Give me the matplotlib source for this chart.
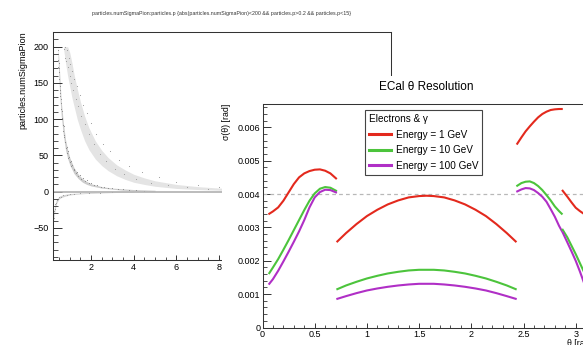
import numpy as np
import matplotlib
matplotlib.use("Agg")
import matplotlib.pyplot as plt
from matplotlib.patches import Rectangle
from matplotlib.ticker import MultipleLocator, FuncFormatter

plt.rcParams['font.family'] = ['Liberation Sans', 'DejaVu Sans']

# ---------------- left plot data (numSigmaPion vs p) ----------------
left_title = ("particles.numSigmaPion:particles.p {abs(particles.numSigmaPion)<200 "
              "&& particles.p>0.2 && particles.p<15}")
left_ylabel = "particles.numSigmaPion"
left_xticks = [2, 4, 6, 8]

# inner (kaon-like) band edges
p_kb = [0.45, 0.5, 0.55, 0.6, 0.7, 0.8, 0.9, 1.0, 1.2, 1.4, 1.6, 1.8, 2.0, 2.5, 3.0, 3.5, 4.0, 5.0]
kb_lo = [185, 150, 125, 105, 78, 58, 46, 37, 25, 18, 13, 10, 8, 5, 3.5, 2, 1.5, 0.5]
kb_hi = [200, 178, 150, 125, 95, 72, 58, 47, 33, 24, 18, 14, 11, 7, 5, 4, 3, 2]
# outer (proton-like) band edges
p_pb = [0.72, 0.8, 0.9, 1.0, 1.1, 1.2, 1.35, 1.5, 1.7, 1.9, 2.2, 2.5, 2.8, 3.2, 3.6, 4.0,
        4.5, 5.0, 6.0, 7.0, 8.0, 10, 12, 14.5]
pb_lo = [195, 178, 160, 145, 130, 118, 100, 86, 70, 58, 45, 36, 29, 22, 17, 13, 10, 7.5,
         4.5, 3, 2, 1, 0.5, 0.3]
pb_hi = [200, 200, 200, 192, 178, 162, 142, 124, 104, 88, 70, 57, 47, 37, 30, 24, 19, 15,
         10, 7, 5, 3, 2, 1.5]
# negative band edges
p_nb = [0.25, 0.28, 0.32, 0.36, 0.4, 0.5, 0.6, 0.8, 1.0, 1.3, 1.7, 2.2, 3.0, 4.0]
nb_lo = [-40, -32, -24, -19, -15, -10, -8, -6, -4.5, -3.5, -2.6, -2, -1.2, -0.6]
nb_hi = [-28, -22, -16, -12, -10, -6.5, -5, -3.5, -2.5, -2, -1.4, -1, -0.5, -0.2]
# pion band at zero
p_pi = [0.2, 16.0]
v_pi = [0.0, 0.0]
# sample points
p_k = [0.45, 0.46, 0.47, 0.47, 0.48, 0.49, 0.50, 0.50, 0.52, 0.53, 0.54, 0.55, 0.56, 0.58, 0.59,
       0.60, 0.62, 0.63, 0.65, 0.66, 0.68, 0.70, 0.71, 0.73, 0.75, 0.77, 0.80, 0.82, 0.85, 0.88,
       0.90, 0.94, 0.97, 1.00, 1.05, 1.08, 1.12, 1.18, 1.22, 1.28, 1.34, 1.40, 1.46, 1.54, 1.62,
       1.70, 1.80, 1.90, 2.00, 2.15, 2.30, 2.45, 2.60, 2.80, 3.00, 3.25, 3.50, 3.80, 4.10, 4.50]
v_k = [196, 182, 190, 172, 178, 165, 170, 155, 150, 140, 146, 132, 136, 122, 128,
       114, 112, 102, 100, 92, 92, 84, 90, 76, 78, 68, 68, 60, 62, 53,
       56, 47, 48, 41, 42, 35, 37, 30, 32, 26, 27, 22, 23, 18, 19,
       15, 15.5, 12, 12.5, 9.5, 9, 7, 7, 5, 5, 3.5, 3.5, 2.5, 2.2, 1.5]
p_pp = [0.74, 0.78, 0.80, 0.83, 0.86, 0.90, 0.95, 0.99, 1.03, 1.07, 1.12, 1.17, 1.22, 1.28, 1.34,
        1.40, 1.47, 1.54, 1.62, 1.70, 1.80, 1.90, 2.00, 2.12, 2.25, 2.40, 2.55, 2.70, 2.90, 3.10,
        3.30, 3.55, 3.80, 4.10, 4.40, 4.80, 5.20, 5.60, 6.00, 6.50, 7.00, 7.50, 8.00, 9.00, 10.0,
        11.0, 12.0, 13.5]
v_pp = [197, 185, 199, 180, 195, 172, 185, 160, 176, 150, 166, 140, 155, 128, 146,
        118, 133, 105, 120, 94, 108, 80, 95, 66, 80, 52, 66, 42, 56, 32,
        44, 25, 35, 18, 27, 12, 20, 9, 13, 6, 9, 4, 6, 3, 2.5,
        1.5, 1.5, 1]
p_np = [0.26, 0.28, 0.30, 0.33, 0.36, 0.40, 0.45, 0.50, 0.60, 0.70, 0.85, 1.0, 1.2, 1.5, 1.9, 2.4, 3.0]
v_np = [-36, -26, -24, -17, -16, -11, -10, -7, -7, -5, -4.5, -3, -3, -2, -1.6, -1.2, -0.7]

# ---------------- right plot data (ECal theta resolution) ----------------
right_title = "ECal θ Resolution"
legend_title = "Electrons & γ"
labels = ["Energy = 1 GeV", "Energy = 10 GeV", "Energy = 100 GeV"]
colors = ["#e3291d", "#4cc43c", "#b02fc6"]

th1 = [0.065, 0.10, 0.15, 0.20, 0.25, 0.30, 0.35, 0.40, 0.45, 0.50, 0.55, 0.60, 0.65, 0.704]
red1 = [3.41, 3.48, 3.60, 3.80, 4.05, 4.30, 4.50, 4.62, 4.69, 4.73, 4.74, 4.70, 4.62, 4.47]
grn1 = [1.63, 1.80, 2.05, 2.33, 2.62, 2.92, 3.22, 3.52, 3.80, 4.02, 4.16, 4.21, 4.19, 4.10]
mag1 = [1.31, 1.45, 1.70, 1.98, 2.27, 2.57, 2.88, 3.22, 3.60, 3.90, 4.06, 4.13, 4.12, 4.05]

th2 = [0.717, 0.80, 0.90, 1.00, 1.10, 1.20, 1.30, 1.40, 1.50, 1.571, 1.64, 1.74, 1.84, 1.94,
       2.04, 2.14, 2.24, 2.34, 2.425]
red2 = [2.58, 2.83, 3.10, 3.34, 3.53, 3.69, 3.81, 3.90, 3.94, 3.95, 3.94, 3.90, 3.81, 3.69,
        3.53, 3.34, 3.10, 2.83, 2.58]
grn2 = [1.15, 1.26, 1.37, 1.47, 1.55, 1.62, 1.67, 1.71, 1.73, 1.73, 1.73, 1.71, 1.67, 1.62,
        1.55, 1.47, 1.37, 1.26, 1.15]
mag2 = [0.86, 0.94, 1.03, 1.11, 1.17, 1.22, 1.26, 1.29, 1.31, 1.31, 1.31, 1.29, 1.26, 1.22,
        1.17, 1.11, 1.03, 0.94, 0.86]

th3 = [2.44, 2.48, 2.52, 2.56, 2.60, 2.64, 2.68, 2.72, 2.76, 2.80, 2.84, 2.866]
red3 = [5.51, 5.70, 5.88, 6.03, 6.17, 6.30, 6.40, 6.47, 6.52, 6.54, 6.55, 6.55]
grn3 = [4.25, 4.33, 4.37, 4.38, 4.33, 4.24, 4.12, 3.97, 3.81, 3.63, 3.49, 3.41]
mag3 = [4.08, 4.14, 4.18, 4.17, 4.12, 4.03, 3.92, 3.77, 3.55, 3.32, 3.05, 2.90]

th4 = [2.875, 2.92, 2.96, 3.00, 3.04, 3.077]
red4 = [4.10, 3.92, 3.75, 3.59, 3.49, 3.41]
grn4 = [2.93, 2.70, 2.45, 2.20, 1.93, 1.68]
mag4 = [2.85, 2.55, 2.28, 2.00, 1.68, 1.36]

segments = [
    (th1, red1, grn1, mag1),
    (th2, red2, grn2, mag2),
    (th3, red3, grn3, mag3),
    (th4, red4, grn4, mag4),
]
ref_level = 0.004

# ---------------- figure ----------------
W, H = 583, 345
fig = plt.figure(figsize=(W / 100, H / 100), dpi=100)
fig.patch.set_facecolor("white")

frame_c = "#333333"

# left plot
ax1 = fig.add_axes([52.7 / W, 1 - 260 / H, (391 - 52.7) / W, (260 - 31.7) / H], zorder=0)
ax1.fill_between(p_pb, pb_lo, pb_hi, color="#e4e4e4", lw=0)
ax1.fill_between(p_kb, kb_lo, kb_hi, color="#cccccc", lw=0)
ax1.fill_between(p_nb, nb_lo, nb_hi, color="#d4d4d4", lw=0)
ax1.plot(p_pi, v_pi, color="#b0b0b0", lw=1.2)
ax1.scatter(p_pp, v_pp, s=0.6, color="#999999", lw=0)
ax1.scatter(p_k, v_k, s=0.6, color="#888888", lw=0)
ax1.scatter(p_np, v_np, s=0.6, color="#999999", lw=0)
ax1.set_xlim(0.2, 16.06)
ax1.set_ylim(-94.2, 220.7)
ax1.set_xticks(left_xticks)
ax1.xaxis.set_minor_locator(MultipleLocator(0.5))
ax1.yaxis.set_major_locator(MultipleLocator(50))
ax1.yaxis.set_minor_locator(MultipleLocator(10))
ax1.tick_params(axis="y", which="major", direction="in", length=6.5, width=0.7,
                labelsize=6.5, pad=3, color=frame_c)
ax1.tick_params(axis="y", which="minor", direction="in", length=3.3, width=0.6, color=frame_c)
ax1.tick_params(axis="x", which="major", direction="in", length=3.6, width=0.7,
                labelsize=6.5, pad=2.5, color=frame_c)
ax1.tick_params(axis="x", which="minor", direction="in", length=1.9, width=0.6, color=frame_c)
for s in ax1.spines.values():
    s.set_color(frame_c)
    s.set_linewidth(0.75)
fig.text(222 / W, 1 - 13.5 / H, left_title, ha="center", va="center", fontsize=3.8, color="#333333")
fig.text(23 / W, 1 - 31.7 / H, left_ylabel, rotation=90, ha="center", va="top", fontsize=6.5)

# white background of the overlaid picture
fig.add_artist(Rectangle((222 / W, 0), 1.0, 1 - 76 / H, transform=fig.transFigure,
                         facecolor="white", edgecolor="none", zorder=1))

# right plot
ax2 = fig.add_axes([262.5 / W, 1 - 327.5 / H, 328 / W, 223.5 / H], zorder=2)
ax2.axhline(ref_level, color="#b8b8b8", ls=(0, (3, 2.5)), lw=0.9)
for k, (th, r, g, m) in enumerate(segments):
    for vals, c, lab in zip((r, g, m), colors, labels):
        ax2.plot(th, np.array(vals) * 1e-3, color=c, lw=1.5, label=lab if k == 0 else None)
ax2.set_xlim(0, np.pi)
ax2.set_ylim(0, 0.0067)
ax2.xaxis.set_major_locator(MultipleLocator(0.5))
ax2.xaxis.set_minor_locator(MultipleLocator(0.1))
ax2.yaxis.set_major_locator(MultipleLocator(0.001))
ax2.yaxis.set_minor_locator(MultipleLocator(0.0002))
ax2.xaxis.set_major_formatter(FuncFormatter(lambda v, _: "%g" % round(v, 3)))
ax2.yaxis.set_major_formatter(FuncFormatter(lambda v, _: "0" if abs(v) < 1e-9 else "%.3f" % v))
ax2.tick_params(axis="y", which="major", direction="in", length=5.5, width=0.7,
                labelsize=6.5, pad=1.5, color=frame_c)
ax2.tick_params(axis="y", which="minor", direction="in", length=2.8, width=0.6, color=frame_c)
ax2.tick_params(axis="x", which="major", direction="in", length=3.6, width=0.7,
                labelsize=6.5, pad=2, color=frame_c)
ax2.tick_params(axis="x", which="minor", direction="in", length=1.9, width=0.6, color=frame_c)
for s in ax2.spines.values():
    s.set_color(frame_c)
    s.set_linewidth(0.75)

leg = ax2.legend(title=legend_title, loc="upper left", bbox_to_anchor=(0.3125, 0.973),
                 frameon=True, fancybox=False, edgecolor="#444444", framealpha=1,
                 fontsize=7.2, title_fontsize=7.2, handlelength=2.2, handletextpad=0.45,
                 borderaxespad=0, borderpad=0.4, labelspacing=0.55)
leg._legend_box.align = "left"
leg.get_frame().set_linewidth(0.8)
for l in leg.get_lines():
    l.set_linewidth(2.2)

fig.text(426.7 / W, 1 - 87 / H, right_title, ha="center", va="center", fontsize=8.5)
fig.text(226.7 / W, 1 - 104 / H, "σ(θ) [rad]", rotation=90, ha="center", va="top", fontsize=6.3)
fig.text(567 / W, 1 - 343 / H, "θ [rad]", ha="left", va="center", fontsize=6.3)

fig.savefig("out.png", dpi=100)
